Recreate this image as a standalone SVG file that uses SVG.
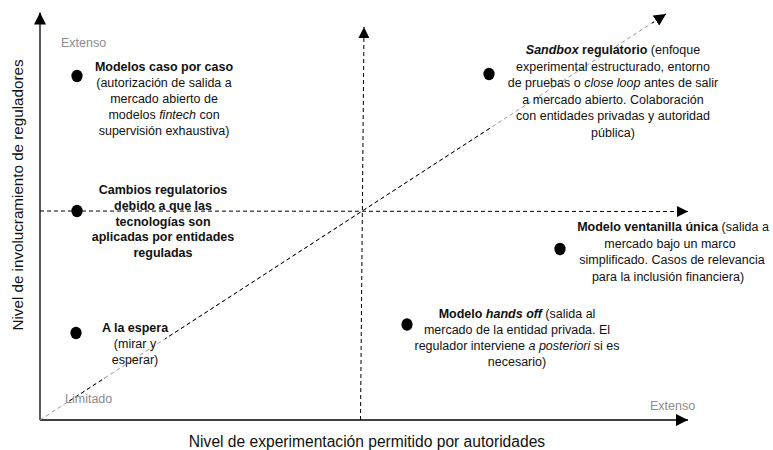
<svg xmlns="http://www.w3.org/2000/svg" width="773" height="450" viewBox="0 0 773 450">
  <defs>
    <style>
      .t { font-family: "Liberation Sans", Arial, sans-serif; font-size: 12.5px; fill: #111; text-anchor: middle; }
      .b { font-weight: bold; }
      .i { font-style: italic; }
      .g { font-family: "Liberation Sans", Arial, sans-serif; font-size: 12.5px; fill: #8c8c8c; }
      .lab { font-family: "Liberation Sans", Arial, sans-serif; fill: #111; text-anchor: middle; }
      .axis { stroke: #000; stroke-width: 1.3; fill: none; }
      .dash { stroke: #000; stroke-width: 1; stroke-dasharray: 4 3; fill: none; }
      .dot { fill: #000; }
    </style>
    <marker id="arr" viewBox="0 0 12 12" refX="12" refY="6" markerWidth="12" markerHeight="12" markerUnits="userSpaceOnUse" orient="auto">
      <path d="M0,0 L12,6 L0,12 Z" fill="#000"/>
    </marker>
    <marker id="arrs" viewBox="0 0 12 12" refX="12" refY="6" markerWidth="11" markerHeight="11" markerUnits="userSpaceOnUse" orient="auto">
      <path d="M0,0 L12,6 L0,12 Z" fill="#000"/>
    </marker>
    <clipPath id="blackpart">
      <rect x="68" y="0" width="37" height="450"/>
      <rect x="165" y="0" width="325" height="450"/>
      <rect x="652" y="0" width="60" height="450"/>
    </clipPath>
  </defs>

  <g id="connectors">
    <line class="axis" x1="40" y1="420" x2="40" y2="12.5" marker-end="url(#arr)"/>
    <line class="axis" x1="40" y1="420" x2="688" y2="420" marker-end="url(#arr)"/>
    <line class="dash" x1="40" y1="211" x2="688" y2="211.5" marker-end="url(#arrs)"/>
    <line class="dash" x1="360.5" y1="420" x2="364" y2="27" marker-end="url(#arrs)"/>
    <line class="dash" x1="40" y1="420" x2="666" y2="14" style="stroke:#9a9a9a"/>
    <line class="dash" x1="40" y1="420" x2="666" y2="14" clip-path="url(#blackpart)" marker-end="url(#arr)"/>
  </g>

  <g id="axis-labels">
    <text class="lab" x="367" y="447" style="font-size:15.6px">Nivel de experimentación permitido por autoridades</text>
    <text class="lab" transform="translate(23,195) rotate(-90)" style="font-size:15.2px">Nivel de involucramiento de reguladores</text>
    <text class="g" x="61" y="46.5">Extenso</text>
    <text class="g" x="650" y="410">Extenso</text>
    <text class="g" x="65" y="402.5">Limitado</text>
  </g>

  <g id="node-caso-por-caso">
    <ellipse class="dot" cx="77" cy="76" rx="5.6" ry="6.2"/>
    <text class="t"><tspan class="b" x="164" y="70.5">Modelos caso por caso</tspan><tspan x="164" y="86.5">(autorización de salida a</tspan><tspan x="164" y="102.5">mercado abierto de</tspan><tspan x="164" y="118.5">modelos <tspan class="i">fintech</tspan> con</tspan><tspan x="164" y="134.5">supervisión exhaustiva)</tspan></text>
  </g>

  <g id="node-cambios">
    <ellipse class="dot" cx="77" cy="211" rx="5.6" ry="6.2"/>
    <text class="t b"><tspan x="163" y="194">Cambios regulatorios</tspan><tspan x="163" y="209.8">debido a que las</tspan><tspan x="163" y="225.6">tecnologías son</tspan><tspan x="163" y="241.4">aplicadas por entidades</tspan><tspan x="163" y="257.2">reguladas</tspan></text>
  </g>

  <g id="node-espera">
    <ellipse class="dot" cx="76" cy="333" rx="5.6" ry="6.2"/>
    <text class="t"><tspan class="b" x="135" y="332.3">A la espera</tspan><tspan x="135" y="348.3">(mirar y</tspan><tspan x="135" y="364.3">esperar)</tspan></text>
  </g>

  <g id="node-sandbox">
    <ellipse class="dot" cx="489" cy="74" rx="5.6" ry="6.2"/>
    <text class="t"><tspan x="613" y="54"><tspan class="b i">Sandbox</tspan><tspan class="b"> regulatorio</tspan> (enfoque</tspan><tspan x="613" y="70.5">experimental estructurado, entorno</tspan><tspan x="613" y="87">de pruebas o <tspan class="i">close loop</tspan> antes de salir</tspan><tspan x="613" y="103.5">a mercado abierto. Colaboración</tspan><tspan x="613" y="120">con entidades privadas y autoridad</tspan><tspan x="613" y="136.5">pública)</tspan></text>
  </g>

  <g id="node-ventanilla">
    <ellipse class="dot" cx="560" cy="249" rx="5.6" ry="6.2"/>
    <text class="t"><tspan x="673" y="231"><tspan class="b">Modelo ventanilla única</tspan> (salida a</tspan><tspan x="670" y="247.5">mercado bajo un marco</tspan><tspan x="672" y="264">simplificado. Casos de relevancia</tspan><tspan x="668" y="280.5">para la inclusión financiera)</tspan></text>
  </g>

  <g id="node-hands-off">
    <ellipse class="dot" cx="407" cy="324.5" rx="5.6" ry="6.2"/>
    <text class="t"><tspan x="517" y="317.5"><tspan class="b">Modelo <tspan class="i">hands off</tspan></tspan> (salida al</tspan><tspan x="517" y="333.8">mercado de la entidad privada. El</tspan><tspan x="517" y="350.1">regulador interviene <tspan class="i">a posteriori</tspan> si es</tspan><tspan x="517" y="366.4">necesario)</tspan></text>
  </g>
</svg>
